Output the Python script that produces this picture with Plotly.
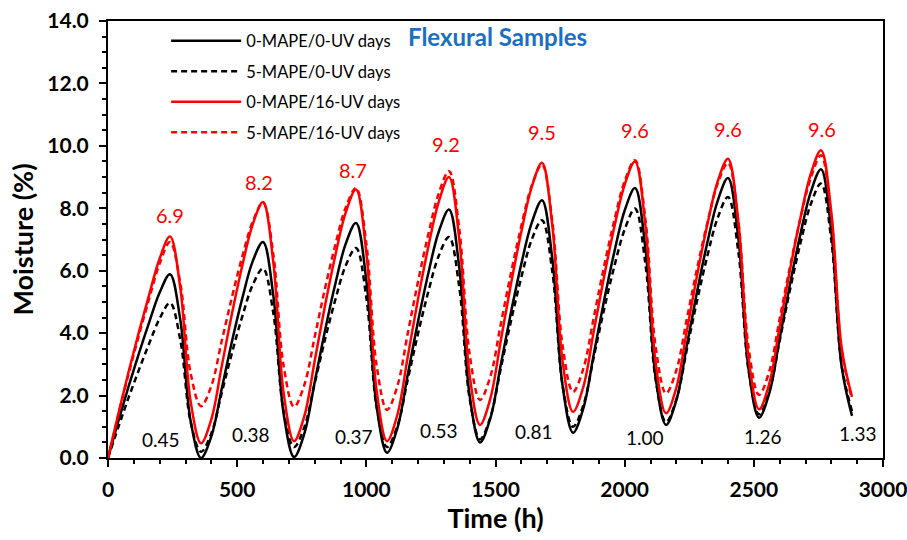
import plotly.graph_objects as go

# Time (h)
time_h = list(range(0, 2881, 40))

# 0-MAPE/0-UV days (black solid)
bs = [0, 1.18, 2.30, 3.36, 4.36, 5.30, 5.89, 4.42, 1.18, 0.0,
      0.69, 2.21, 3.74, 5.12, 6.30, 6.92, 5.20, 1.41, 0.03,
      0.78, 2.43, 4.08, 5.58, 6.86, 7.53, 5.69, 1.64, 0.17,
      0.95, 2.66, 4.37, 5.92, 7.24, 7.96, 6.08, 1.99, 0.50,
      1.27, 2.97, 4.67, 6.22, 7.53, 8.26, 6.38, 2.29, 0.81,
      1.59, 3.31, 5.03, 6.60, 7.93, 8.65, 6.74, 2.57, 1.06,
      1.85, 3.58, 5.32, 6.90, 8.24, 8.97, 7.04, 2.82, 1.29,
      2.08, 3.83, 5.57, 7.16, 8.51, 9.25, 7.25, 2.92, 1.35]

# 5-MAPE/0-UV days (black dashed)
bd = [0, 0.99, 1.94, 2.83, 3.68, 4.47, 4.97, 3.78, 1.15, 0.20,
      0.79, 2.08, 3.37, 4.54, 5.54, 6.07, 4.64, 1.49, 0.35,
      0.99, 2.39, 3.80, 5.07, 6.16, 6.73, 5.14, 1.63, 0.35,
      1.02, 2.50, 3.98, 5.33, 6.47, 7.08, 5.46, 1.90, 0.60,
      1.30, 2.85, 4.39, 5.79, 6.99, 7.62, 5.97, 2.32, 1.00,
      1.69, 3.22, 4.75, 6.14, 7.32, 7.99, 6.24, 2.51, 1.15,
      1.87, 3.45, 5.03, 6.47, 7.69, 8.36, 6.61, 2.79, 1.40,
      2.14, 3.76, 5.39, 6.87, 8.12, 8.79, 6.97, 2.96, 1.50]

# 0-MAPE/16-UV days (red solid)
rs = [0, 1.42, 2.77, 4.05, 5.25, 6.39, 7.10, 5.44, 1.80, 0.47,
      1.24, 2.93, 4.63, 6.17, 7.48, 8.20, 6.26, 2.07, 0.54,
      1.34, 3.11, 4.88, 6.49, 7.86, 8.60, 6.57, 2.15, 0.54,
      1.38, 3.23, 5.09, 6.77, 8.20, 9.00, 6.99, 2.64, 1.06,
      1.90, 3.74, 5.58, 7.25, 8.68, 9.46, 7.44, 3.07, 1.48,
      2.28, 4.04, 5.80, 7.40, 8.76, 9.50, 7.47, 3.04, 1.43,
      2.25, 4.04, 5.84, 7.47, 8.86, 9.59, 7.58, 3.17, 1.56,
      2.39, 4.21, 6.03, 7.68, 9.09, 9.86, 7.86, 3.53, 1.96]

# 5-MAPE/16-UV days (red dashed)
rd = [0, 1.38, 2.70, 3.94, 5.12, 6.23, 6.92, 5.60, 2.71, 1.66,
      2.31, 3.74, 5.16, 6.46, 7.57, 8.18, 6.52, 2.94, 1.64,
      2.34, 3.88, 5.43, 6.83, 8.02, 8.65, 6.87, 2.96, 1.54,
      2.30, 3.98, 5.65, 7.17, 8.47, 9.19, 7.33, 3.32, 1.86,
      2.61, 4.27, 5.93, 7.44, 8.72, 9.40, 7.58, 3.58, 2.12,
      2.86, 4.49, 6.13, 7.61, 8.87, 9.54, 7.67, 3.56, 2.07,
      2.81, 4.43, 6.06, 7.53, 8.79, 9.45, 7.59, 3.51, 2.02,
      2.78, 4.46, 6.13, 7.66, 8.96, 9.70, 7.71, 3.45, 1.90]

# Peak labels (red)
peak_text = ["6.9", "8.2", "8.7", "9.2", "9.5", "9.6", "9.6", "9.6"]
peak_x = [240, 583, 948, 1309, 1680, 2040, 2400, 2762]
peak_y = [7.78, 8.84, 9.24, 10.05, 10.44, 10.52, 10.54, 10.54]

# Minimum labels (black)
min_text = ["0.45", "0.38", "0.37", "0.53", "0.81", "1.00", "1.26", "1.33"]
min_x = [205, 553, 952, 1282, 1648, 2078, 2536, 2905]
min_y = [0.60, 0.74, 0.70, 0.87, 0.84, 0.66, 0.70, 0.79]

series = [
    ("0-MAPE/0-UV days", bs, "black", "solid"),
    ("5-MAPE/0-UV days", bd, "black", "6px,4px"),
    ("0-MAPE/16-UV days", rs, "#FF0000", "solid"),
    ("5-MAPE/16-UV days", rd, "#FF0000", "6px,4px"),
]

FONT = "Lato"
fig = go.Figure()
for i, (name, ys, col, dash) in enumerate(series):
    fig.add_trace(go.Scatter(
        x=time_h, y=ys, name=name, mode="lines", legendgroup=f"g{i}",
        line=dict(color=col, width=2.5, dash=dash, shape="spline", smoothing=1.0),
    ))

annotations = []
for t, x, y in zip(peak_text, peak_x, peak_y):
    annotations.append(dict(x=x, y=y, text=t, showarrow=False,
                            font=dict(family=FONT, size=20, color="#FF0000")))
for t, x, y in zip(min_text, min_x, min_y):
    annotations.append(dict(x=x, y=y, text=t, showarrow=False,
                            font=dict(family=FONT, size=19, color="black")))
annotations.append(dict(x=0.503, y=0.964, xref="paper", yref="paper",
                        xanchor="center", yanchor="middle",
                        text="<b>Flexural Samples</b>", showarrow=False,
                        font=dict(family=FONT, size=24, color="#1A6FC2")))

axis_common = dict(
    showline=True, linecolor="black", linewidth=2, mirror=True,
    ticks="outside", tickcolor="black", tickwidth=2, ticklen=7,
    showgrid=False, zeroline=False, automargin=False,
    ticklabeloverflow="allow",
    tickfont=dict(family=FONT, size=21, color="black", weight="bold"),
)

fig.update_layout(
    width=907, height=540,
    margin=dict(l=108, r=24, t=21, b=82, autoexpand=False),
    paper_bgcolor="white", plot_bgcolor="white",
    xaxis=dict(range=[0, 3000], dtick=500, tick0=0,
               minor=dict(dtick=100, ticks="outside", ticklen=4, tickcolor="black", tickwidth=1.5),
               title=dict(text="<b>Time (h)</b>", font=dict(family=FONT, size=27, color="black"), standoff=8),
               ticklabelstandoff=5,
               **axis_common),
    yaxis=dict(range=[0, 14], dtick=2, tick0=0, tickformat=".1f",
               minor=dict(dtick=0.5, ticks="outside", ticklen=4, tickcolor="black", tickwidth=1.5),
               title=dict(text="<b>Moisture (%)</b>", font=dict(family=FONT, size=27, color="black"), standoff=6),
               ticklabelstandoff=6,
               **axis_common),
    legend=dict(x=0.075, y=0.994, xanchor="left", yanchor="top",
                font=dict(family=FONT, size=16.5, color="black"),
                bgcolor="rgba(0,0,0,0)", tracegroupgap=6, itemwidth=70),
    annotations=annotations,
    showlegend=True,
)

fig.write_html("out.html")
